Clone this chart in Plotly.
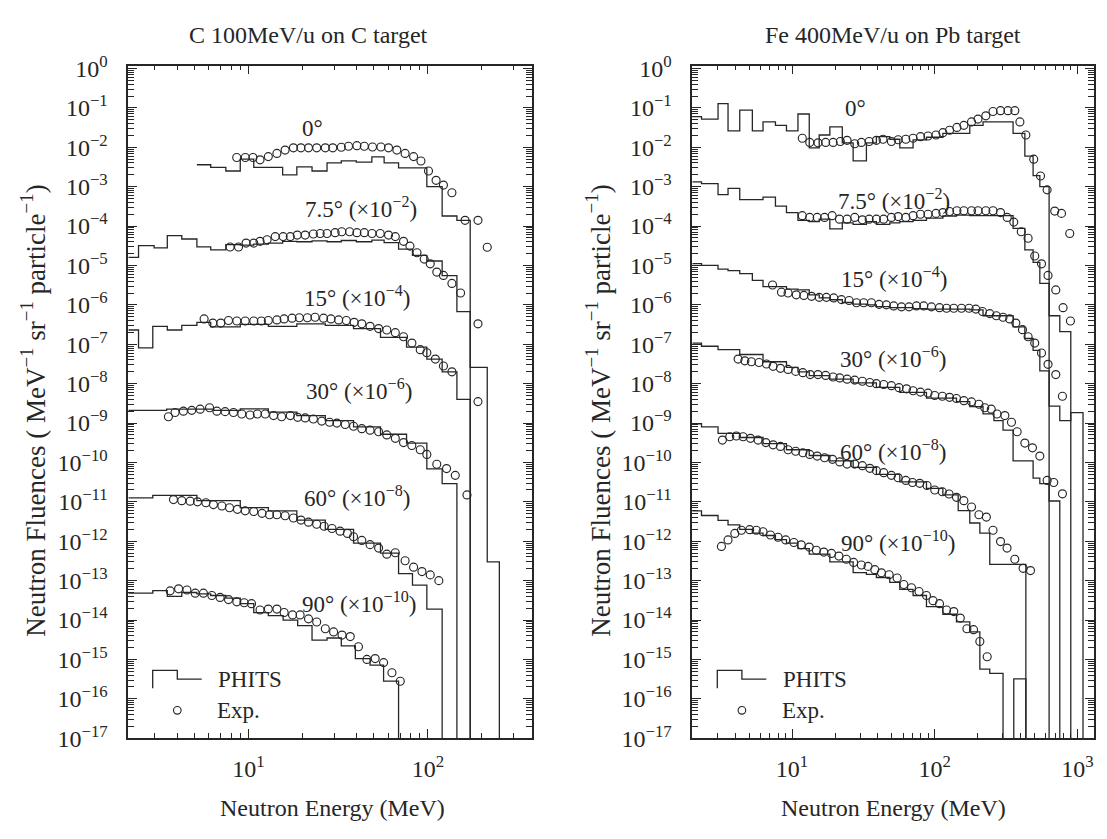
import plotly.graph_objects as go

# ------------------------------------------------------------------
# DATA
# ------------------------------------------------------------------
# Left panel: C 100 MeV/u on C target -------------------------------
# PHITS histograms: bin edges [MeV] and fluence per bin
L0_EDGES = [5.16, 6.16, 7.48, 9.0, 10.7, 12.9, 15.5, 18.6, 22.6, 27.4, 32.9, 39.9, 48.7, 57.0, 68.6, 82.0, 98.6, 120, 145, 172]
L0_VALS = [3.6e-3, 3.1e-3, 2.5e-3, 5.0e-3, 3.1e-3, 3.1e-3, 2.0e-3, 3.2e-3, 2.5e-3, 4.0e-3, 4.5e-3, 4.2e-3, 5.7e-3, 4.0e-3, 3.0e-3, 3.0e-3, 1.0e-3, 1.8e-4, 1.4e-4]

L7_EDGES = [2.14, 2.44, 2.98, 3.53, 4.25, 5.16, 6.16, 7.48, 9.0, 10.7, 12.9, 15.5, 18.6, 22.6, 27.4, 32.9, 39.9, 48.7, 57.0, 68.6, 82.0, 98.6, 120, 145, 172, 214, 250]
L7_VALS = [1.6e-5, 3.2e-5, 2.8e-5, 5.7e-5, 4.7e-5, 2.95e-5, 2.5e-5, 3.4e-5, 3.3e-5, 3.5e-5, 3.7e-5, 4.1e-5, 4.0e-5, 4.2e-5, 4.0e-5, 4.3e-5, 4.0e-5, 4.4e-5, 3.8e-5, 2.6e-5, 1.8e-5, 1.3e-5, 5.5e-6, 6.7e-7, 2.6e-8, 3e-13]

L15_EDGES = [2.14, 2.44, 2.93, 3.53, 4.25, 5.16, 6.16, 9.0, 12.9, 18.6, 26.8, 38.5, 54.4, 76, 98.6, 120, 145, 172]
L15_VALS = [2.3e-7, 8.1e-8, 2.85e-7, 2.3e-7, 3.0e-7, 3.6e-7, 2.75e-7, 3.2e-7, 2.85e-7, 3.3e-7, 3.0e-7, 2.5e-7, 1.5e-7, 8.5e-8, 4.2e-8, 2.0e-8, 4.0e-9]

L30_EDGES = [2.14, 3.5, 6.4, 9.0, 12.9, 18.6, 26.8, 38.5, 54.4, 76, 98.6, 120, 145]
L30_VALS = [2.1e-9, 2.25e-9, 2.1e-9, 2.3e-9, 1.9e-9, 1.55e-9, 1.15e-9, 8.0e-10, 5.2e-10, 3.1e-10, 6.9e-11, 2.9e-11]

L60_EDGES = [2.14, 2.93, 5.16, 9.0, 12.9, 18.6, 26.8, 38.5, 54.4, 68.6, 82, 98.6, 120]
L60_VALS = [1.26e-11, 1.46e-11, 1.07e-11, 7.1e-12, 5.9e-12, 3.45e-12, 2.0e-12, 9.0e-13, 5.0e-13, 1.5e-13, 7.7e-14, 1.9e-14]

L90_EDGES = [2.14, 2.93, 3.53, 4.25, 5.16, 6.16, 7.48, 9.0, 10.7, 12.9, 15.6, 18.8, 22.6, 27.4, 32.9, 39.4, 47.6, 56.6, 68.6]
L90_VALS = [4.8e-14, 5.6e-14, 4.0e-14, 5.0e-14, 4.6e-14, 4.2e-14, 3.6e-14, 2.6e-14, 1.55e-14, 1.3e-14, 1.0e-14, 7.2e-15, 3.1e-15, 3.5e-15, 2.2e-15, 1.05e-15, 7.2e-16, 2.8e-16]

# Experimental points (energy [MeV], fluence)
L0_EXP_E = [8.6, 9.6, 10.6, 11.6, 12.9, 14.4, 16.0, 17.8, 19.6, 21.6, 24.0, 26.8, 29.5, 32.9, 36.1, 40.2, 44.2, 49.1, 54.7, 60.3, 67.1, 74.6, 83.2, 91.4, 100.7, 111, 122, 136, 161, 190, 214]
L0_EXP_F = [5.5e-3, 5.5e-3, 5.5e-3, 4.8e-3, 5.8e-3, 7.0e-3, 8.5e-3, 9.7e-3, 9.7e-3, 9.7e-3, 9.7e-3, 9.7e-3, 9.7e-3, 1.0e-2, 1.06e-2, 1.1e-2, 1.06e-2, 1.02e-2, 1.02e-2, 9.7e-3, 8.5e-3, 7.0e-3, 5.8e-3, 4.5e-3, 2.5e-3, 1.45e-3, 1.1e-3, 7e-4, 1.4e-4, 1.4e-4, 2.9e-5]

L7_EXP_E = [7.9, 8.8, 9.7, 10.7, 11.6, 12.7, 14.1, 15.6, 17.1, 18.7, 20.7, 23.0, 25.1, 27.4, 30.4, 33.1, 36.6, 40.2, 44.2, 48.8, 54.2, 60.3, 65.8, 73.1, 79.4, 86.9, 95.3, 103, 112, 122, 136, 152, 190]
L7_EXP_F = [2.95e-5, 2.95e-5, 3.7e-5, 3.7e-5, 4.1e-5, 4.5e-5, 5.4e-5, 5.4e-5, 5.4e-5, 5.9e-5, 5.9e-5, 6.3e-5, 6.5e-5, 6.5e-5, 6.8e-5, 7.2e-5, 7.2e-5, 6.8e-5, 6.8e-5, 6.5e-5, 6.5e-5, 5.9e-5, 5.4e-5, 4.1e-5, 3.1e-5, 2.1e-5, 1.45e-5, 1.1e-5, 6.8e-6, 5.6e-6, 3.5e-6, 2.0e-6, 3.3e-7]

L15_EXP_E = [5.66, 6.33, 7.01, 7.74, 8.61, 9.59, 10.7, 11.8, 12.9, 14.4, 15.8, 17.5, 19.2, 21.3, 23.5, 26.2, 28.8, 31.8, 35.1, 38.8, 42.8, 47.6, 53.1, 59.0, 65.8, 73.1, 81.4, 90.6, 98.6, 110, 122, 136, 190]
L15_EXP_F = [4.4e-7, 3.45e-7, 3.45e-7, 4.0e-7, 3.9e-7, 3.9e-7, 3.9e-7, 3.9e-7, 4.0e-7, 4.15e-7, 4.4e-7, 4.6e-7, 4.7e-7, 4.7e-7, 4.85e-7, 4.6e-7, 4.4e-7, 4.15e-7, 4.0e-7, 3.6e-7, 3.3e-7, 2.85e-7, 2.5e-7, 2.3e-7, 1.97e-7, 1.55e-7, 1.07e-7, 7.3e-8, 6.1e-8, 4.2e-8, 2.8e-8, 2.0e-8, 3.5e-9]

L30_EXP_E = [3.58, 3.90, 4.34, 4.83, 5.38, 6.07, 6.67, 7.41, 8.25, 9.18, 10.2, 11.2, 12.4, 13.8, 15.3, 17.1, 18.8, 20.7, 23.0, 25.6, 28.3, 31.1, 34.6, 38.5, 42.8, 47.6, 53.1, 59.0, 65.8, 73.1, 81.3, 90.6, 98.6, 112, 127, 142, 165]
L30_EXP_F = [1.45e-9, 1.85e-9, 2.0e-9, 2.1e-9, 2.25e-9, 2.45e-9, 2.0e-9, 1.95e-9, 1.85e-9, 1.7e-9, 1.6e-9, 1.7e-9, 1.7e-9, 1.55e-9, 1.45e-9, 1.55e-9, 1.4e-9, 1.35e-9, 1.27e-9, 1.12e-9, 1.05e-9, 1.0e-9, 9.2e-10, 8.3e-10, 7.2e-10, 6.6e-10, 6.0e-10, 5.0e-10, 4.1e-10, 3.2e-10, 2.7e-10, 2.1e-10, 1.6e-10, 9e-11, 7e-11, 4.7e-11, 1.5e-11]

L60_EXP_E = [3.82, 4.25, 4.73, 5.2, 5.79, 6.38, 7.11, 7.84, 8.68, 9.59, 10.7, 11.9, 13.1, 14.4, 16.0, 17.8, 19.6, 21.6, 24.0, 26.4, 29.2, 32.4, 35.6, 38.5, 42.8, 47.6, 53.1, 59.0, 65.8, 74.6, 83.2, 92.6, 103, 115]
L60_EXP_F = [1.14e-11, 1.07e-11, 1.04e-11, 1.0e-11, 9.5e-12, 8.5e-12, 7.85e-12, 7.1e-12, 6.45e-12, 5.9e-12, 5.7e-12, 5.1e-12, 4.7e-12, 4.7e-12, 4.45e-12, 3.9e-12, 3.45e-12, 3.05e-12, 2.7e-12, 2.4e-12, 2.1e-12, 1.8e-12, 1.58e-12, 1.3e-12, 1.05e-12, 8.2e-13, 6.7e-13, 4.7e-13, 5.1e-13, 3.2e-13, 2.2e-13, 1.7e-13, 1.4e-13, 1.0e-13]

L90_EXP_E = [3.66, 4.08, 4.54, 5.05, 5.61, 6.25, 6.95, 7.74, 8.61, 9.46, 10.4, 11.6, 12.9, 14.4, 15.8, 17.6, 19.4, 21.6, 24.0, 26.8, 29.8, 33.2, 36.9, 41.0, 45.7, 50.8, 56.6, 63.0, 70.1]
L90_EXP_F = [5.5e-14, 6.2e-14, 5.8e-14, 4.8e-14, 4.8e-14, 4.2e-14, 3.75e-14, 3.3e-14, 2.9e-14, 2.75e-14, 2.6e-14, 1.8e-14, 1.9e-14, 1.9e-14, 1.55e-14, 1.35e-14, 1.35e-14, 1.07e-14, 8.9e-15, 6.0e-15, 5.0e-15, 4.15e-15, 3.8e-15, 2.1e-15, 1.0e-15, 1.05e-15, 8.3e-16, 4.6e-16, 2.8e-16]

# Right panel: Fe 400 MeV/u on Pb target ---------------------------
R0_EDGES = [2.0, 2.32, 3.03, 3.56, 4.30, 5.27, 6.26, 7.65, 9.14, 11.0, 13.2, 15.5, 18.4, 22.5, 26.8, 33.2, 39.0, 48.4, 56.9, 70.5, 87.5, 114, 142, 176, 218, 354, 428, 489, 545, 633]
R0_VALS = [6.0e-2, 5.2e-2, 0.128, 2.6e-2, 8.8e-2, 2.6e-2, 4.4e-2, 3.6e-2, 2.6e-2, 7.0e-2, 9.7e-3, 2.05e-2, 3.3e-2, 1.3e-2, 4.5e-3, 1.3e-2, 1.86e-2, 1.6e-2, 9.7e-3, 1.55e-2, 1.8e-2, 2.25e-2, 2.25e-2, 3.6e-2, 4.4e-2, 2.25e-2, 6e-3, 1.9e-3, 1e-3]

R7_EDGES = [2.0, 2.32, 3.03, 3.56, 4.30, 6.26, 7.65, 9.14, 11.0, 13.2, 15.5, 18.4, 22.5, 26.8, 33.2, 39.0, 48.4, 56.9, 70.5, 87.5, 114, 142, 176, 218, 354, 428, 489, 545, 633, 752, 898]
R7_VALS = [1.33e-3, 1.2e-3, 6.3e-4, 9.1e-4, 4.7e-4, 5.4e-4, 3.2e-4, 2.2e-4, 1.4e-4, 1.3e-4, 1.5e-4, 8.5e-5, 1.2e-4, 1.1e-4, 1.3e-4, 1.1e-4, 1.2e-4, 1.3e-4, 1.4e-4, 1.6e-4, 1.8e-4, 1.9e-4, 1.85e-4, 1.85e-4, 8.7e-5, 2.5e-5, 1.2e-5, 3.5e-6, 5.3e-7, 2.1e-7]

R15_EDGES = [2.0, 2.32, 3.03, 3.56, 4.30, 5.27, 6.26, 7.65, 9.14, 11.0, 13.2, 15.5, 18.4, 22.5, 26.8, 33.2, 39.0, 48.4, 56.9, 70.5, 87.5, 114, 142, 176, 218, 354, 428, 489, 545, 633, 752, 898, 1094]
R15_VALS = [1.12e-5, 1.0e-5, 8.1e-6, 7.4e-6, 6.2e-6, 4.2e-6, 2.9e-6, 2.9e-6, 2.5e-6, 2.4e-6, 1.8e-6, 1.5e-6, 1.35e-6, 1.15e-6, 1.05e-6, 1.0e-6, 9.0e-7, 8.5e-7, 8.5e-7, 8.0e-7, 7.8e-7, 7.8e-7, 7.8e-7, 7.5e-7, 5.3e-7, 2.75e-7, 1.4e-7, 7.0e-8, 2.1e-8, 2.7e-9, 1.15e-9, 1.85e-9]

R30_EDGES = [2.0, 2.32, 3.03, 4.30, 6.26, 9.14, 11.0, 13.2, 18.4, 26.8, 39.0, 56.9, 87.5, 142, 176, 218, 260, 301, 354, 489, 545, 633, 752]
R30_VALS = [1.07e-7, 8.9e-8, 7.3e-8, 5.5e-8, 3.6e-8, 2.6e-8, 2.0e-8, 1.6e-8, 1.3e-8, 1.05e-8, 8.0e-9, 6.0e-9, 4.3e-9, 3.5e-9, 2.6e-9, 1.7e-9, 1.15e-9, 6.6e-10, 1.1e-10, 4.0e-11, 2.9e-11, 1.05e-11]

R60_EDGES = [2.0, 2.32, 3.03, 4.30, 6.26, 9.14, 13.2, 18.4, 26.8, 39.0, 56.9, 87.5, 114, 146, 176, 207, 243, 435]
R60_VALS = [9.6e-10, 8e-10, 5.5e-10, 4.3e-10, 3.0e-10, 2.1e-10, 1.5e-10, 1.1e-10, 7.5e-11, 5e-11, 3.2e-11, 2.2e-11, 1.5e-11, 6e-12, 2.9e-12, 1.6e-12, 2.6e-13]

R90_EDGES = [2.0, 2.32, 3.03, 3.56, 4.30, 5.27, 6.26, 7.65, 9.14, 11.0, 13.2, 15.5, 18.4, 22.5, 26.8, 33.2, 39.0, 48.4, 56.9, 70.5, 87.5, 114, 142, 176, 207, 243, 301, 358, 435]
R90_VALS = [5.9e-12, 4.5e-12, 3.4e-12, 2.6e-12, 2.0e-12, 1.6e-12, 1.4e-12, 1.1e-12, 9e-13, 6.5e-13, 4.7e-13, 4.7e-13, 3.0e-13, 3.0e-13, 1.6e-13, 1.45e-13, 1.2e-13, 9e-14, 6e-14, 4.2e-14, 2.2e-14, 1.4e-14, 9e-15, 5e-15, 5.7e-16, 4.4e-16, None, 3.2e-16]

R0_EXP_E = [11.8, 13.3, 15.2, 17.2, 19.4, 21.8, 24.3, 27.5, 30.6, 34.7, 39.0, 43.4, 49.7, 55.4, 62.7, 70.5, 79.4, 89.7, 102, 114, 127, 143, 160, 181, 201, 228, 256, 289, 326, 364, 395, 435, 494, 551, 613, 693, 773, 883]
R0_EXP_F = [1.7e-2, 1.33e-2, 1.3e-2, 1.33e-2, 1.33e-2, 1.4e-2, 1.5e-2, 1.23e-2, 1.33e-2, 1.4e-2, 1.5e-2, 1.6e-2, 1.4e-2, 1.55e-2, 1.6e-2, 1.7e-2, 1.86e-2, 1.94e-2, 2.05e-2, 2.35e-2, 2.7e-2, 3.2e-2, 3.6e-2, 4.4e-2, 5.2e-2, 6.3e-2, 8.1e-2, 8.5e-2, 8.5e-2, 8.5e-2, 4.4e-2, 2.05e-2, 5.0e-3, 1.87e-3, 8.3e-4, 2.4e-4, 2.1e-4, 6.5e-5]

R7_EXP_E = [11.8, 13.3, 15.0, 16.9, 19.1, 21.5, 24.3, 27.5, 31.1, 34.7, 39.0, 43.8, 49.7, 55.4, 62.7, 70.5, 79.4, 89.7, 102, 114, 127, 143, 160, 181, 201, 228, 256, 289, 322, 358, 404, 451, 502, 560, 622, 705, 793, 893]
R7_EXP_F = [1.84e-4, 1.66e-4, 1.66e-4, 1.66e-4, 1.84e-4, 1.5e-4, 1.5e-4, 1.66e-4, 1.44e-4, 1.5e-4, 1.5e-4, 1.5e-4, 1.66e-4, 1.74e-4, 1.66e-4, 1.84e-4, 2.0e-4, 2.0e-4, 2.1e-4, 2.2e-4, 2.35e-4, 2.45e-4, 2.45e-4, 2.45e-4, 2.45e-4, 2.45e-4, 2.45e-4, 2.2e-4, 1.66e-4, 1.26e-4, 7.2e-5, 4.9e-5, 1.74e-5, 1.1e-5, 5.6e-6, 2.4e-6, 8.5e-7, 3.9e-7]

R15_EXP_E = [7.3, 8.43, 9.38, 10.7, 12.1, 13.7, 15.5, 17.4, 19.6, 22.2, 25.1, 28.3, 31.8, 36.0, 40.7, 45.8, 51.6, 58.5, 66.1, 74.4, 83.7, 94.8, 108, 121, 136, 154, 174, 194, 216, 243, 270, 301, 335, 370, 412, 451, 502, 560, 622, 705, 785]
R15_EXP_F = [3.2e-6, 2.1e-6, 2.0e-6, 1.8e-6, 1.74e-6, 1.65e-6, 1.55e-6, 1.55e-6, 1.5e-6, 1.36e-6, 1.29e-6, 1.13e-6, 1.13e-6, 1.13e-6, 1.03e-6, 1.0e-6, 9.4e-7, 8.9e-7, 8.9e-7, 9.4e-7, 9.4e-7, 8.9e-7, 8.5e-7, 8.2e-7, 8.2e-7, 8.2e-7, 8.2e-7, 7.8e-7, 6.8e-7, 6.0e-7, 5.3e-7, 4.85e-7, 4.4e-7, 3.45e-7, 2.35e-7, 1.55e-7, 1.07e-7, 6.0e-8, 3.1e-8, 1.7e-8, 4.8e-9]

R30_EXP_E = [4.19, 4.67, 5.19, 5.87, 6.62, 7.37, 8.29, 9.38, 10.6, 11.9, 13.4, 15.2, 17.2, 19.4, 21.6, 24.3, 27.5, 31.1, 35.1, 39.0, 43.9, 49.7, 56.2, 63.4, 70.5, 79.4, 89.7, 100, 113, 127, 142, 160, 181, 204, 224, 249, 273, 310, 345, 378, 428, 484, 545, 613, 682, 785]
R30_EXP_F = [4.2e-8, 3.8e-8, 3.6e-8, 3.45e-8, 3.15e-8, 2.75e-8, 2.45e-8, 2.3e-8, 2.05e-8, 1.9e-8, 1.7e-8, 1.7e-8, 1.62e-8, 1.48e-8, 1.4e-8, 1.3e-8, 1.23e-8, 1.15e-8, 1.07e-8, 1.0e-8, 9.5e-9, 8.9e-9, 7.9e-9, 7.4e-9, 6.6e-9, 6.1e-9, 5.75e-9, 5.0e-9, 4.8e-9, 4.5e-9, 4.2e-9, 3.7e-9, 3.45e-9, 3.0e-9, 2.45e-9, 2.25e-9, 1.7e-9, 1.55e-9, 1.05e-9, 6.0e-10, 3.1e-10, 2.35e-10, 1.45e-10, 3.5e-11, 3.1e-11, 1.6e-11]

R60_EXP_E = [3.25, 3.66, 4.07, 4.54, 5.11, 5.78, 6.55, 7.37, 8.29, 9.38, 10.6, 11.9, 13.3, 15.0, 16.9, 19.2, 21.6, 24.3, 27.5, 31.1, 35.1, 39.0, 43.9, 49.7, 55.4, 62.7, 69.8, 78.5, 88.3, 100, 113, 126, 142, 160, 181, 204, 230, 256, 289, 321, 364, 416, 469]
R60_EXP_F = [3.7e-10, 4.5e-10, 4.7e-10, 4.5e-10, 4.1e-10, 3.7e-10, 3.2e-10, 2.8e-10, 2.55e-10, 2.1e-10, 1.93e-10, 1.76e-10, 1.6e-10, 1.45e-10, 1.32e-10, 1.2e-10, 1.03e-10, 9.1e-11, 9.1e-11, 8.3e-11, 7.1e-11, 6.2e-11, 5.5e-11, 4.7e-11, 4.1e-11, 3.5e-11, 3.1e-11, 2.95e-11, 2.6e-11, 2.0e-11, 1.8e-11, 1.58e-11, 1.3e-11, 1.07e-11, 7.4e-12, 4.7e-12, 4.1e-12, 1.9e-12, 9.8e-13, 6.7e-13, 3.5e-13, 2.05e-13, 1.8e-13]

R90_EXP_E = [3.20, 3.56, 3.97, 4.42, 5.05, 5.62, 6.26, 7.06, 7.98, 9.03, 10.3, 11.6, 13.2, 14.8, 16.7, 18.9, 21.3, 24.0, 27.0, 30.6, 34.1, 38.0, 42.3, 47.9, 54.5, 60.7, 68.7, 77.6, 87.5, 97.3, 108, 121, 136, 151, 168, 187, 207, 233]
R90_EXP_F = [7.4e-13, 1.08e-12, 1.58e-12, 1.9e-12, 1.97e-12, 1.9e-12, 1.74e-12, 1.44e-12, 1.26e-12, 1.08e-12, 9.3e-13, 8.1e-13, 7.1e-13, 5.9e-13, 5.3e-13, 4.9e-13, 4.2e-13, 3.5e-13, 2.9e-13, 2.5e-13, 2.3e-13, 1.9e-13, 1.58e-13, 1.41e-13, 1.17e-13, 8e-14, 6.6e-14, 5.3e-14, 4.2e-14, 3.1e-14, 2.6e-14, 1.8e-14, 1.64e-14, 1.12e-14, 6.0e-15, 5.7e-15, 2.85e-15, 1.17e-15]

# Tick labels and texts
Y_TICK_VALS = [1e0, 1e-1, 1e-2, 1e-3, 1e-4, 1e-5, 1e-6, 1e-7, 1e-8, 1e-9, 1e-10, 1e-11, 1e-12, 1e-13, 1e-14, 1e-15, 1e-16, 1e-17]
Y_TICK_TEXT = ["10<sup>0</sup>", "10<sup>\u22121</sup>", "10<sup>\u22122</sup>", "10<sup>\u22123</sup>", "10<sup>\u22124</sup>",
               "10<sup>\u22125</sup>", "10<sup>\u22126</sup>", "10<sup>\u22127</sup>", "10<sup>\u22128</sup>", "10<sup>\u22129</sup>",
               "10<sup>\u221210</sup>", "10<sup>\u221211</sup>", "10<sup>\u221212</sup>", "10<sup>\u221213</sup>", "10<sup>\u221214</sup>",
               "10<sup>\u221215</sup>", "10<sup>\u221216</sup>", "10<sup>\u221217</sup>"]
XL_TICK_VALS = [10, 100]
XL_TICK_TEXT = ["10<sup>1</sup>", "10<sup>2</sup>"]
XR_TICK_VALS = [10, 100, 1000]
XR_TICK_TEXT = ["10<sup>1</sup>", "10<sup>2</sup>", "10<sup>3</sup>"]

ANGLE_LABELS = ["0\u00b0", "7.5\u00b0 (\u00d710<sup>\u22122</sup>)", "15\u00b0 (\u00d710<sup>\u22124</sup>)",
                "30\u00b0 (\u00d710<sup>\u22126</sup>)", "60\u00b0 (\u00d710<sup>\u22128</sup>)", "90\u00b0 (\u00d710<sup>\u221210</sup>)"]
PANEL_TITLES = ["C 100MeV/u on C target", "Fe 400MeV/u on Pb target"]
X_TITLE = "Neutron Energy (MeV)"
Y_TITLE = "Neutron Fluences ( MeV<sup>\u22121</sup> sr<sup>\u22121</sup> particle<sup>\u22121</sup>)"
LEGEND_TEXT = ["PHITS", "Exp."]

# ------------------------------------------------------------------
# FIGURE
# ------------------------------------------------------------------
W, H = 1107, 839
FONT = "Liberation Serif, Times New Roman, serif"
INK = "#262626"
BOTTOM = 1e-19   # below the axis range: used for the drop-offs of histograms


def px(x):
    return x / W


def py(y):
    return 1 - y / H


fig = go.Figure()


def add_hist(edges, vals, xa, ya):
    ys = [BOTTOM if v is None else v for v in vals] + [BOTTOM]
    fig.add_trace(go.Scatter(x=edges, y=ys, mode="lines", xaxis=xa, yaxis=ya,
                             line=dict(shape="hv", color=INK, width=1.3),
                             showlegend=False, hoverinfo="skip"))


def add_exp(e, f, xa, ya):
    fig.add_trace(go.Scatter(x=e, y=f, mode="markers", xaxis=xa, yaxis=ya,
                             marker=dict(symbol="circle-open", size=8, color=INK,
                                         line=dict(width=1.15, color=INK)),
                             showlegend=False))


for edges, vals in [(L0_EDGES, L0_VALS), (L7_EDGES, L7_VALS), (L15_EDGES, L15_VALS),
                    (L30_EDGES, L30_VALS), (L60_EDGES, L60_VALS), (L90_EDGES, L90_VALS)]:
    add_hist(edges, vals, "x", "y")
for e, f in [(L0_EXP_E, L0_EXP_F), (L7_EXP_E, L7_EXP_F), (L15_EXP_E, L15_EXP_F),
             (L30_EXP_E, L30_EXP_F), (L60_EXP_E, L60_EXP_F), (L90_EXP_E, L90_EXP_F)]:
    add_exp(e, f, "x", "y")

for edges, vals in [(R0_EDGES, R0_VALS), (R7_EDGES, R7_VALS), (R15_EDGES, R15_VALS),
                    (R30_EDGES, R30_VALS), (R60_EDGES, R60_VALS), (R90_EDGES, R90_VALS)]:
    add_hist(edges, vals, "x2", "y2")
for e, f in [(R0_EXP_E, R0_EXP_F), (R7_EXP_E, R7_EXP_F), (R15_EXP_E, R15_EXP_F),
             (R30_EXP_E, R30_EXP_F), (R60_EXP_E, R60_EXP_F), (R90_EXP_E, R90_EXP_F)]:
    add_exp(e, f, "x2", "y2")


def minor_vals(lo_exp, hi_exp):
    out = []
    for d in range(lo_exp, hi_exp + 1):
        for m in range(2, 10):
            out.append(m * 10.0 ** d)
    return out


tickfont = dict(family=FONT, size=24, color=INK)
common_x = dict(type="log", ticks="inside", ticklen=9, tickwidth=1.2, tickcolor=INK,
                showline=True, linecolor=INK, linewidth=1.5, mirror="allticks",
                showgrid=False, zeroline=False, tickfont=tickfont, ticklabelstandoff=8,
                minor=dict(ticks="inside", ticklen=5, tickwidth=1, tickcolor=INK,
                           tickmode="array", tickvals=minor_vals(0, 3), showgrid=False))
common_y = dict(type="log", range=[-17, 0.074], ticks="inside", ticklen=9, tickwidth=1.2,
                tickcolor=INK, showline=True, linecolor=INK, linewidth=1.5, mirror="allticks",
                showgrid=False, zeroline=False, tickfont=tickfont, ticklabelstandoff=14,
                tickmode="array", tickvals=Y_TICK_VALS, ticktext=Y_TICK_TEXT,
                minor=dict(ticks="inside", ticklen=6, tickwidth=1, tickcolor=INK,
                           tickmode="array", tickvals=minor_vals(-17, -1), showgrid=False))

Y_DOM = [py(748.3), py(53.3)]
fig.update_layout(
    width=W, height=H, margin=dict(l=0, r=0, t=0, b=0),
    paper_bgcolor="white", plot_bgcolor="white", showlegend=False,
    font=dict(family=FONT, color=INK),
    xaxis=dict(common_x, domain=[px(128.3), px(532)], range=[0.3304, 2.5798],
               tickmode="array", tickvals=XL_TICK_VALS, ticktext=XL_TICK_TEXT, anchor="y"),
    yaxis=dict(common_y, domain=Y_DOM, anchor="x"),
    xaxis2=dict(common_x, domain=[px(692.3), px(1094)], range=[0.301, 3.116],
                tickmode="array", tickvals=XR_TICK_VALS, ticktext=XR_TICK_TEXT, anchor="y2"),
    yaxis2=dict(common_y, domain=Y_DOM, anchor="x2"),
)

ann = []
# panel titles
for title, cx in zip(PANEL_TITLES, [308, 893]):
    ann.append(dict(text=title, x=px(cx), y=py(22), xref="paper", yref="paper",
                    showarrow=False, xanchor="center", yanchor="middle",
                    font=dict(family=FONT, size=24, color=INK)))
# axis titles
for cx in [332, 893]:
    ann.append(dict(text=X_TITLE, x=px(cx), y=py(820), xref="paper", yref="paper",
                    showarrow=False, xanchor="center", yanchor="middle",
                    font=dict(family=FONT, size=24, color=INK)))
for cx in [33, 598]:
    ann.append(dict(text=Y_TITLE, x=px(cx), y=py(410), xref="paper", yref="paper",
                    showarrow=False, xanchor="center", yanchor="middle", textangle=-90,
                    font=dict(family=FONT, size=27, color=INK)))
# angle labels
LEFT_LABEL_POS = [(312, 118), (361, 200), (357, 292), (359, 388), (357, 499), (359, 608)]
RIGHT_LABEL_POS = [(855, 98), (894, 192), (894, 272), (893, 355), (893, 451), (898, 545)]
for lab, (cx, cy) in zip(ANGLE_LABELS, LEFT_LABEL_POS):
    ann.append(dict(text=lab, x=px(cx), y=py(cy), xref="paper", yref="paper",
                    showarrow=False, xanchor="center", yanchor="middle",
                    font=dict(family=FONT, size=23, color=INK)))
for lab, (cx, cy) in zip(ANGLE_LABELS, RIGHT_LABEL_POS):
    ann.append(dict(text=lab, x=px(cx), y=py(cy), xref="paper", yref="paper",
                    showarrow=False, xanchor="center", yanchor="middle",
                    font=dict(family=FONT, size=23, color=INK)))
# legend texts
for x0 in [216, 781]:
    ann.append(dict(text=LEGEND_TEXT[0], x=px(x0), y=py(688), xref="paper", yref="paper",
                    showarrow=False, xanchor="left", yanchor="middle",
                    font=dict(family=FONT, size=23, color=INK)))
    ann.append(dict(text=LEGEND_TEXT[1], x=px(x0 - 1), y=py(720), xref="paper", yref="paper",
                    showarrow=False, xanchor="left", yanchor="middle",
                    font=dict(family=FONT, size=23, color=INK)))
fig.update_layout(annotations=ann)

# legend glyphs (step line + open circle)
shapes = []
for gx in [152.7, 717.3]:
    path = "M {a},{b} L {a},{c} L {d},{c} L {d},{e} L {f},{e}".format(
        a=px(gx), b=py(696.7), c=py(678.3), d=px(gx + 24.6), e=py(687.3), f=px(gx + 49))
    shapes.append(dict(type="path", path=path, xref="paper", yref="paper",
                       line=dict(color=INK, width=1.3)))
    shapes.append(dict(type="circle", xref="paper", yref="paper", xsizemode="pixel", ysizemode="pixel",
                       xanchor=px(gx + 24.6), yanchor=py(719.5), x0=-3.8, x1=3.8, y0=-3.8, y1=3.8,
                       line=dict(color=INK, width=1.15)))
fig.update_layout(shapes=shapes)

fig.write_html("out.html")
